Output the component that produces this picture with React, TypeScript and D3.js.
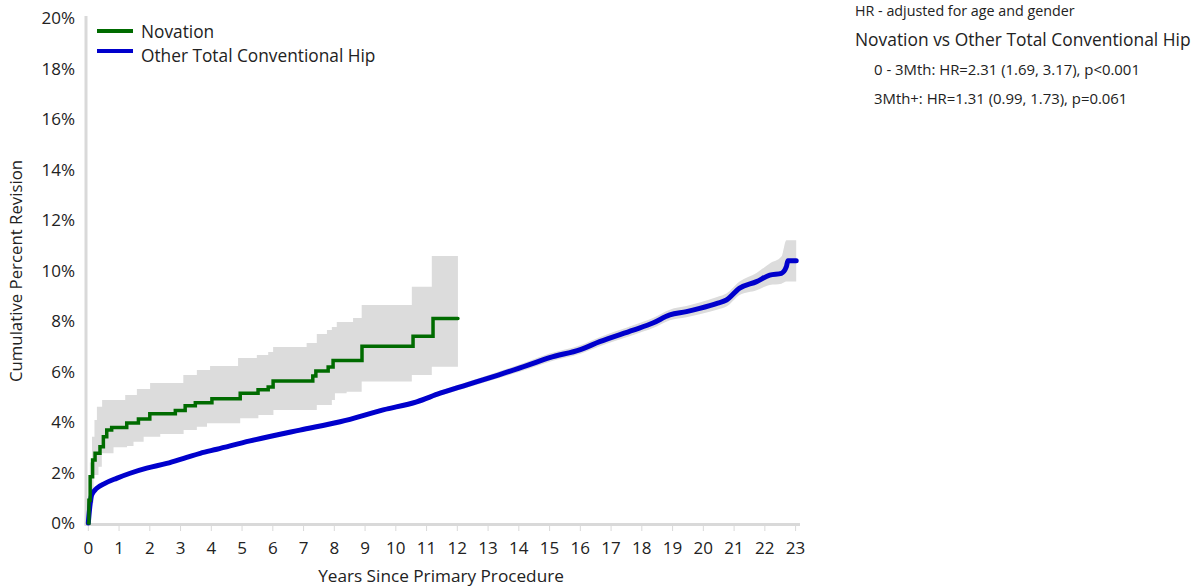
import React from "react";
import * as d3 from "d3";

// ---------- DATA ----------
const xTicks = d3.range(0, 24);
const yTicks = [0, 2, 4, 6, 8, 10, 12, 14, 16, 18, 20];

// Novation (step function)
const novX = [0, 0.02, 0.06, 0.14, 0.22, 0.38, 0.49, 0.6, 0.76, 1.25, 1.63, 2.0, 2.83, 3.15, 3.48, 4.02, 4.94, 5.52, 5.85, 6.01, 7.3, 7.4, 7.8, 7.96, 8.9, 10.56, 11.21, 12.02];
const novY = [0, 0.9, 1.83, 2.5, 2.76, 3.02, 3.42, 3.68, 3.78, 3.96, 4.12, 4.33, 4.46, 4.64, 4.76, 4.92, 5.14, 5.28, 5.39, 5.62, 5.82, 6.02, 6.18, 6.44, 7.0, 7.4, 8.1, 8.1];
const novUpX = [0, 0.05, 0.12, 0.2, 0.28, 0.45, 1.2, 1.58, 2.01, 3.09, 3.53, 3.96, 4.87, 5.48, 5.85, 6.01, 7.1, 7.43, 7.76, 7.92, 8.08, 8.61, 8.89, 10.52, 11.17, 12.02];
const novUpY = [0, 2.4, 3.42, 4.08, 4.6, 4.87, 5.07, 5.31, 5.54, 5.86, 6.06, 6.22, 6.53, 6.65, 6.77, 6.97, 7.13, 7.49, 7.64, 7.76, 7.96, 8.12, 8.63, 9.36, 10.57, 10.57];
const novLoX = [0, 0.05, 0.17, 0.33, 0.44, 0.82, 1.26, 1.47, 1.8, 2.34, 3.1, 3.53, 3.86, 4.94, 5.53, 6.02, 7.43, 7.92, 8.02, 8.4, 8.89, 10.52, 11.17, 12.02];
const novLoY = [0, 0.8, 1.9, 2.23, 2.76, 3.0, 3.05, 3.22, 3.42, 3.52, 3.68, 3.81, 3.95, 4.15, 4.28, 4.48, 4.67, 4.87, 5.14, 5.2, 5.6, 5.86, 6.19, 6.19];

// Other Total Conventional Hip
const blueX = [0, 0.05, 0.11, 0.27, 0.54, 0.92, 1.36, 1.9, 2.55, 3.2, 3.64, 4.18, 5.26, 6.88, 8.19, 9.59, 10.68, 11.44, 12.31, 13.33, 14.3, 15.0, 16.0, 16.63, 17.72, 18.36, 18.91, 19.45, 19.88, 20.47, 20.75, 21.18, 21.73, 22.16, 22.54, 22.7, 22.75, 23.02];
const blueY = [0, 0.65, 1.11, 1.37, 1.57, 1.77, 1.97, 2.17, 2.36, 2.6, 2.76, 2.92, 3.25, 3.68, 4.01, 4.48, 4.8, 5.14, 5.47, 5.86, 6.25, 6.55, 6.87, 7.18, 7.64, 7.92, 8.24, 8.37, 8.5, 8.71, 8.83, 9.3, 9.56, 9.82, 9.89, 10.15, 10.39, 10.39];
const blueLo = [0, 0.61, 1.07, 1.33, 1.53, 1.73, 1.93, 2.13, 2.32, 2.55, 2.71, 2.87, 3.19, 3.62, 3.94, 4.4, 4.71, 5.04, 5.36, 5.73, 6.1, 6.39, 6.7, 7.0, 7.45, 7.72, 8.03, 8.15, 8.27, 8.46, 8.57, 9.03, 9.22, 9.43, 9.48, 9.56, 9.56, 9.56];
const blueHi = [0, 0.69, 1.15, 1.41, 1.61, 1.81, 2.01, 2.21, 2.4, 2.65, 2.81, 2.97, 3.31, 3.74, 4.08, 4.56, 4.89, 5.24, 5.58, 5.99, 6.4, 6.71, 7.04, 7.36, 7.83, 8.12, 8.45, 8.59, 8.73, 8.96, 9.09, 9.56, 9.9, 10.28, 10.55, 11.2, 11.2, 11.2];

const seriesNames = ["Novation", "Other Total Conventional Hip"];
const seriesColors = ["#006B00", "#0000CC"];
const hrTitle = "HR - adjusted for age and gender";
const hrCompare = "Novation vs Other Total Conventional Hip";
const hrLines = ["0 - 3Mth: HR=2.31 (1.69, 3.17), p<0.001", "3Mth+: HR=1.31 (0.99, 1.73), p=0.061"];

// ---------- LAYOUT ----------
const W = 1196, H = 587;
const x = d3.scaleLinear().domain([0, 23]).range([88.3, 795.6]);
const y = d3.scaleLinear().domain([0, 20]).range([523, 18]);
const FONT = "'Open Sans', 'Noto Sans', sans-serif";
const TXT = "#222";

function stepAt(xs: number[], ys: number[], v: number) {
  let r = ys[0];
  for (let i = 0; i < xs.length; i++) if (xs[i] <= v) r = ys[i];
  return r;
}

export default function App() {
  const allX = Array.from(new Set([...novUpX, ...novLoX])).sort((a, b) => a - b);
  const novBand = allX.map((v) => ({ x: v, lo: stepAt(novLoX, novLoY, v), hi: stepAt(novUpX, novUpY, v) }));
  const bandArea = d3.area<any>().x((d) => x(d.x)).y0((d) => y(d.lo)).y1((d) => y(d.hi)).curve(d3.curveStepAfter);
  const blueBand = blueX.map((v, i) => ({ x: v, lo: blueLo[i], hi: blueHi[i] }));
  const blueArea = d3.area<any>().x((d) => x(d.x)).y0((d) => y(d.lo)).y1((d) => y(d.hi)).curve(d3.curveMonotoneX);
  const novLine = d3.line<number>().x((d, i) => x(novX[i])).y((d) => y(d)).curve(d3.curveStepAfter);
  const blueLine = d3.line<number>().x((d, i) => x(blueX[i])).y((d) => y(d)).curve(d3.curveMonotoneX);

  return (
    <svg width={W} height={H} style={{ position: "absolute", left: 0, top: 0, background: "#fff" }} fontFamily={FONT}>
      {/* axes */}
      <line x1={86} x2={86} y1={16} y2={525} stroke="#d9d9d9" strokeWidth={3} />
      <line x1={84.5} x2={800} y1={524.5} y2={524.5} stroke="#d9d9d9" strokeWidth={3} />
      {xTicks.map((t) => (
        <g key={t}>
          <line x1={x(t)} x2={x(t)} y1={526} y2={531} stroke="#d9d9d9" strokeWidth={1} />
          <text x={x(t)} y={554} textAnchor="middle" fontSize={17} fill={TXT}>{t}</text>
        </g>
      ))}
      {yTicks.map((t) => (
        <text key={t} x={75} y={y(t) + 6} textAnchor="end" fontSize={17} fill={TXT}>{t}%</text>
      ))}
      <text x={441} y={582} textAnchor="middle" fontSize={17.2} fill={TXT}>Years Since Primary Procedure</text>
      <text transform="translate(22,271) rotate(-90)" textAnchor="middle" fontSize={16.8} fill={TXT}>Cumulative Percent Revision</text>

      {/* bands */}
      <path d={bandArea(novBand) || ""} fill="#dcdcdc" />
      <path d={blueArea(blueBand) || ""} fill="#dcdcdc" />

      {/* lines */}
      <path d={blueLine(blueY) || ""} fill="none" stroke={seriesColors[1]} strokeWidth={5} strokeLinejoin="round" strokeLinecap="round" />
      <path d={novLine(novY) || ""} fill="none" stroke={seriesColors[0]} strokeWidth={3.5} strokeLinejoin="miter" strokeLinecap="round" />

      {/* legend */}
      {seriesNames.map((n, i) => (
        <g key={n}>
          <line x1={97} x2={133} y1={31 + i * 20} y2={31 + i * 20} stroke={seriesColors[i]} strokeWidth={4} />
          <text x={141} y={38 + i * 24} fontSize={17.3} fill={TXT}>{n}</text>
        </g>
      ))}

      {/* HR text */}
      <text x={855} y={16} fontSize={14.3} fill={TXT}>{hrTitle}</text>
      <text x={855} y={46} fontSize={17.4} fill={TXT}>{hrCompare}</text>
      {hrLines.map((l, i) => (
        <text key={i} x={874} y={75 + i * 29} fontSize={14.9} fill={TXT}>{l}</text>
      ))}
    </svg>
  );
}
